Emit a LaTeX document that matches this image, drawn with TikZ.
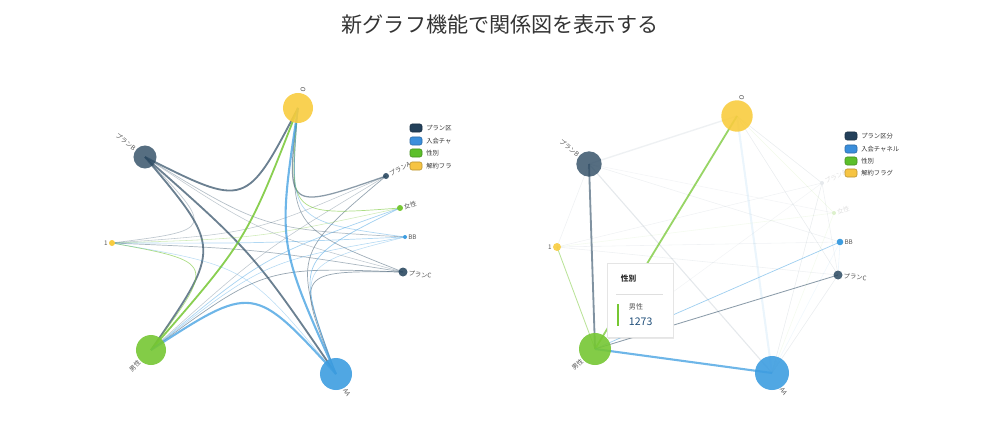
\documentclass[tikz,border=0pt]{standalone}
\usepackage{fontspec}
\setmainfont{Noto Sans CJK JP}
\usepackage{tikz}
\usetikzlibrary{calc, backgrounds, shadows}
\definecolor{slate}{HTML}{2C4A62}
\definecolor{gold}{HTML}{F8CC3F}
\definecolor{leaf}{HTML}{76C733}
\definecolor{sky}{HTML}{3D9DE0}
\definecolor{legslate}{HTML}{23405A}
\definecolor{legsky}{HTML}{3A8EDB}
\definecolor{legleaf}{HTML}{5CBF2A}
\definecolor{leggold}{HTML}{F6C443}
\definecolor{labelgray}{HTML}{555555}
\definecolor{titlegray}{HTML}{333333}
\definecolor{tipblue}{HTML}{1F4E79}

\begin{document}
\begin{tikzpicture}[x=0.025cm, y=-0.025cm,
    dot/.style={circle, inner sep=0pt, minimum size=#1, label distance=2.5pt},
    lbl/.style={font=\fontsize{4.5}{5}\selectfont, text=labelgray, inner sep=.5pt},
    legbox/.style={rectangle, rounded corners=1.5pt, minimum width=.3cm,
        minimum height=.2cm, inner sep=0pt, draw=#1!75!black, fill=#1},
    legtext/.style={anchor=west, font=\fontsize{4.5}{5}\selectfont, text=titlegray, inner sep=0pt}
]
\useasboundingbox (0,0) rectangle (1000,433);

\node[font=\fontsize{15}{18}\selectfont, text=titlegray] (title) at (500,25) {新グラフ機能で関係図を表示する};

% left graph, circular layout
\coordinate (lc) at (258,245);
\node[dot=.75cm, fill=gold, fill opacity=.9,
    label={[lbl, rotate=74, anchor=west]74:O}] (lO) at (298,108) {};
\node[dot=.575cm, fill=slate, fill opacity=.8,
    label={[lbl, rotate=-38, anchor=east]142:プランB}] (lB) at (145,157) {};
\node[dot=.15cm, fill=gold,
    label={[lbl, anchor=east]180:1}] (l1) at (112,243) {};
\node[dot=.75cm, fill=leaf, fill opacity=.9,
    label={[lbl, rotate=45, anchor=east]225:男性}] (lM) at (151,350) {};
\node[dot=.8cm, fill=sky, fill opacity=.9,
    label={[lbl, rotate=-59, anchor=west]-59:AA}] (lAA) at (336,374) {};
\node[dot=.225cm, fill=slate, fill opacity=.9,
    label={[lbl, rotate=-8, anchor=west]-8:プランC}] (lC) at (403,272) {};
\node[dot=.1cm, fill=sky,
    label={[lbl, anchor=west]0:BB}] (lBB) at (405,237) {};
\node[dot=.15cm, fill=leaf,
    label={[lbl, rotate=15, anchor=west]15:女性}] (lF) at (400,208) {};
\node[dot=.15cm, fill=slate, fill opacity=.9,
    label={[lbl, rotate=28, anchor=west]28:プランA}] (lA) at (386,176) {};

\begin{scope}[on background layer]
\foreach \a/\b/\w/\o in {lB/lO/1.3pt/.7, lB/lM/1.3pt/.7, lB/lAA/1.3pt/.7,
    lB/lBB/.5pt/.35, lB/lC/.4pt/.3, lB/l1/.5pt/.3, lO/lA/.9pt/.55, lO/lC/.5pt/.45,
    l1/lA/.4pt/.3, l1/lC/.5pt/.4, lM/lC/.5pt/.5, lM/lA/.4pt/.3,
    lAA/lA/.5pt/.5, lAA/lC/.5pt/.5}
  \draw[slate, line width=\w, draw opacity=\o]
    (\a.center) .. controls ($(\a.center)!.5!(\b.center)!.67!(lc)$) .. (\b.center);
\foreach \a/\b/\w/\o in {lO/lM/1.3pt/.85, lO/lF/.5pt/.6, l1/lM/.5pt/.6, l1/lF/.4pt/.35}
  \draw[leaf, line width=\w, draw opacity=\o]
    (\a.center) .. controls ($(\a.center)!.5!(\b.center)!.67!(lc)$) .. (\b.center);
\foreach \a/\b/\w/\o in {lO/lAA/1.5pt/.75, lM/lAA/1.5pt/.75, lO/lBB/.5pt/.4,
    lM/lBB/.4pt/.4, lM/lF/.5pt/.45, l1/lBB/.5pt/.4, l1/lAA/.4pt/.35,
    lAA/lF/.5pt/.5, lAA/lBB/.4pt/.35}
  \draw[sky, line width=\w, draw opacity=\o]
    (\a.center) .. controls ($(\a.center)!.5!(\b.center)!.67!(lc)$) .. (\b.center);
\end{scope}

% left legend
\foreach \y/\c/\t [count=\i] in {128/legslate/プラン区, 141/legsky/入会チャ,
    153/legleaf/性別, 166/leggold/解約フラ} {
  \node[legbox=\c] (ll\i) at (416,\y) {};
  \node[legtext] (llt\i) at (426,\y) {\t};
}

% right graph, 男性 selected
\node[dot=.785cm, fill=gold, fill opacity=.9,
    label={[lbl, rotate=76, anchor=west]76:O}] (rO) at (737,116) {};
\node[dot=.635cm, fill=slate, fill opacity=.8,
    label={[lbl, rotate=-40, anchor=east]140:プランB}] (rB) at (589,164) {};
\node[dot=.2cm, fill=gold, fill opacity=.9,
    label={[lbl, anchor=east]180:1}] (r1) at (557,247) {};
\node[dot=.8cm, fill=leaf, fill opacity=.9,
    label={[lbl, rotate=42, anchor=east]222:男性}] (rM) at (595,349) {};
\node[dot=.85cm, fill=sky, fill opacity=.9,
    label={[lbl, rotate=-58, anchor=west]-58:AA}] (rAA) at (772,373) {};
\node[dot=.225cm, fill=slate, fill opacity=.85,
    label={[lbl, rotate=-6, anchor=west]-6:プランC}] (rC) at (838,275) {};
\node[dot=.165cm, fill=sky,
    label={[lbl, anchor=west]3:BB}] (rBB) at (840,242) {};
\node[dot=.1cm, fill=leaf!25,
    label={[lbl, text=gray!25, rotate=15, anchor=west]15:女性}] (rF) at (834,213) {};
\node[dot=.1cm, fill=slate!12,
    label={[lbl, text=gray!25, rotate=25, anchor=west]25:プランA}] (rA) at (822,183) {};

\begin{scope}[on background layer]
\foreach \a/\b/\w/\o in {rO/rB/1pt/.08, rO/rA/.4pt/.1, rO/rC/.4pt/.1,
    rB/rAA/.8pt/.12, rB/rBB/.4pt/.08, rB/r1/.4pt/.08, rB/rF/.4pt/.06,
    r1/rA/.4pt/.07, r1/rBB/.4pt/.07, r1/rC/.4pt/.08, rAA/rA/.4pt/.1,
    rAA/rC/.4pt/.1, rA/rC/.4pt/.08, rM/rA/.4pt/.06}
  \draw[slate, line width=\w, draw opacity=\o] (\a.center) -- (\b.center);
\foreach \a/\b/\w/\o in {rO/rF/.4pt/.1, r1/rF/.4pt/.08, rAA/rF/.4pt/.08}
  \draw[leaf, line width=\w, draw opacity=\o] (\a.center) -- (\b.center);
\foreach \a/\b/\w/\o in {rO/rAA/1.5pt/.1, rBB/rC/.4pt/.1, rAA/rBB/.4pt/.08}
  \draw[sky, line width=\w, draw opacity=\o] (\a.center) -- (\b.center);
% edges of the selected node
\draw[slate, line width=1.3pt, draw opacity=.6] (rB.center) -- (rM.center);
\draw[slate, line width=.6pt, draw opacity=.55] (rM.center) -- (rC.center);
\draw[leaf, line width=1.3pt, draw opacity=.75] (rO.center) -- (rM.center);
\draw[leaf, line width=.6pt, draw opacity=.5] (r1.center) -- (rM.center);
\draw[sky, line width=1.5pt, draw opacity=.75] (rM.center) -- (rAA.center);
\draw[sky, line width=.5pt, draw opacity=.5] (rM.center) -- (rBB.center);
\end{scope}

% right legend
\foreach \y/\c/\t [count=\i] in {136/legslate/プラン区分, 149/legsky/入会チャネル,
    161/legleaf/性別, 173/leggold/解約フラグ} {
  \node[legbox=\c] (rl\i) at (851,\y) {};
  \node[legtext] (rlt\i) at (861,\y) {\t};
}

% tooltip
\node[draw=gray!20, fill=white, anchor=north west, minimum width=1.65cm,
    minimum height=1.86cm, inner sep=0pt,
    drop shadow={opacity=.18, shadow xshift=.6pt, shadow yshift=-.6pt}] (tip) at (607,263) {};
\node[anchor=west, font=\fontsize{5.5}{6}\selectfont\bfseries, text=titlegray] (tiptitle) at (616,279) {性別};
\draw[gray!25, line width=.3pt] (616,294) -- (663,294);
\draw[leaf, line width=1.2pt] (618,304) -- (618,326);
\node[anchor=west, font=\fontsize{5}{6}\selectfont, text=labelgray] (tipkey) at (624,307) {男性};
\node[anchor=west, font=\fontsize{7.5}{9}\selectfont, text=tipblue] (tipval) at (624,322) {1273};
\end{tikzpicture}
\end{document}
